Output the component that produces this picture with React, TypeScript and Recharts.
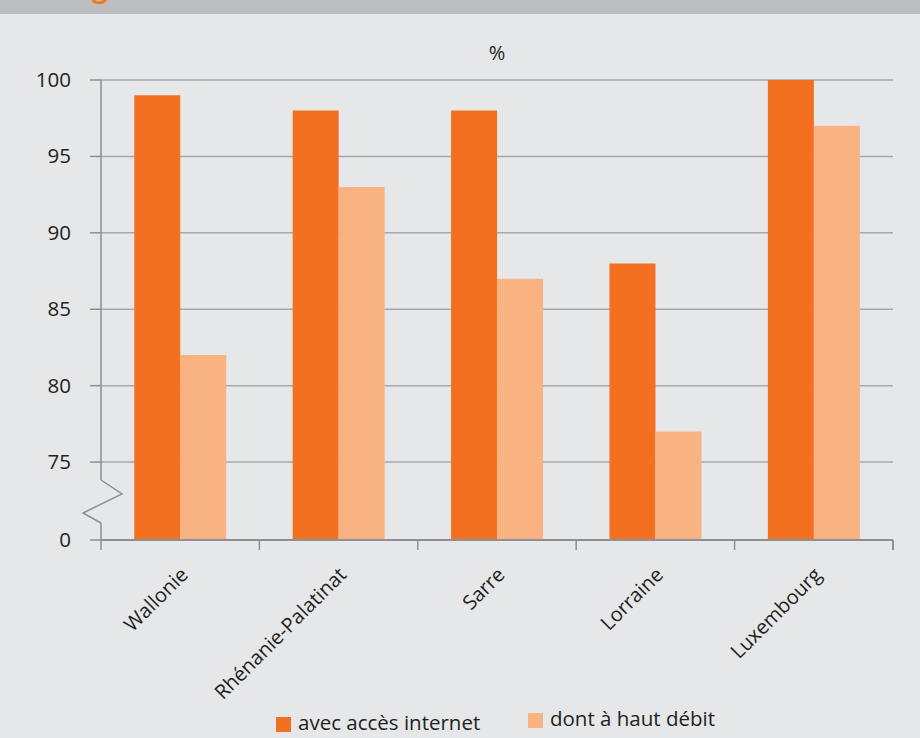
import { BarChart, Bar, XAxis, YAxis, CartesianGrid } from 'recharts';

const REGIONS = ['Wallonie', 'Rhénanie-Palatinat', 'Sarre', 'Lorraine', 'Luxembourg'];
const INTERNET = [99, 98, 98, 88, 100];
const HAUT_DEBIT = [82, 93, 87, 77, 97];
const Y_TICKS = [69.9, 75, 80, 85, 90, 95, 100];
const BREAK_VALUE = 69.9; // bottom of the broken axis, labelled 0

const DARK = '#f37021';
const LIGHT = '#f9b383';
const BG = '#e6e7e8';
const GRID = '#a7a9ac';
const AXIS = '#8d8f92';
const TEXT = '#231f20';
const FONT = '"Open Sans", sans-serif';

const CHART_W = 920;
const CHART_H = 738;
const MARGIN = { top: 80, right: 27, bottom: 0, left: 21 };
const Y_W = 80;
const PLOT_W = CHART_W - MARGIN.left - MARGIN.right - Y_W;

const data = REGIONS.map((r, i) => ({ region: r, internet: INTERNET[i], debit: HAUT_DEBIT[i] }));

function XTick(props: any) {
  const { x, y, payload, index } = props;
  const band = PLOT_W / REGIONS.length;
  return (
    <g>
      <line x1={x - band / 2} x2={x - band / 2} y1={y} y2={y + 10} stroke={AXIS} strokeWidth={1.5} />
      {index === REGIONS.length - 1 && (
        <line x1={x + band / 2} x2={x + band / 2} y1={y} y2={y + 10} stroke={AXIS} strokeWidth={2} />
      )}
      <text
        x={x + 9}
        y={y + 36}
        transform={`rotate(-45, ${x + 9}, ${y + 36})`}
        textAnchor="end"
        fill={TEXT}
        fontSize={20}
        fontFamily={FONT}
      >
        {payload.value}
      </text>
    </g>
  );
}

function YTick(props: any) {
  const { x, y, payload } = props;
  const ax = x + 11 + 17;
  const isBreak = payload.value === BREAK_VALUE;
  return (
    <g>
      {isBreak && (
        <g>
          <rect x={ax - 2} y={y - 60} width={4} height={43} fill={BG} />
          <polyline
            points={`${ax},${y - 60} ${ax + 21},${y - 46} ${ax - 18},${y - 27} ${ax},${y - 17}`}
            fill="none"
            stroke={AXIS}
            strokeWidth={1.5}
          />
        </g>
      )}
      <text x={x - 2} y={y} dy={7} textAnchor="end" fill={TEXT} fontSize={20.5} fontFamily={FONT}>
        {isBreak ? '0' : payload.value}
      </text>
    </g>
  );
}

export default function App() {
  return (
    <div style={{ position: 'absolute', left: 0, top: 0, width: 920, height: 738, background: BG, overflow: 'hidden', fontFamily: FONT }}>
      <div style={{ position: 'absolute', left: 0, top: 0, width: 920, height: 14, background: '#bcbec0', overflow: 'hidden' }}>
        <span style={{ position: 'absolute', left: 92, top: -34, fontSize: 28, fontWeight: 700, color: '#f47b20', lineHeight: '40px' }}>g</span>
      </div>
      <div style={{ position: 'absolute', left: 101, width: PLOT_W, top: 39, textAlign: 'center', fontSize: 20, color: TEXT }}>%</div>
      <div style={{ position: 'absolute', top: 0, left: 0 }}>
        <BarChart width={CHART_W} height={CHART_H} data={data} margin={MARGIN} barCategoryGap="21%" barGap={0}>
          <CartesianGrid vertical={false} stroke={GRID} strokeWidth={1.5} />
          <XAxis
            dataKey="region"
            interval={0}
            height={CHART_H - MARGIN.top - 460}
            tickLine={false}
            tickSize={0}
            tickMargin={0}
            axisLine={{ stroke: AXIS, strokeWidth: 2 }}
            tick={<XTick />}
          />
          <YAxis
            domain={[BREAK_VALUE, 100]}
            ticks={Y_TICKS}
            interval={0}
            width={Y_W}
            tickSize={11}
            tickMargin={17}
            tickLine={{ stroke: AXIS, strokeWidth: 1.5 }}
            axisLine={{ stroke: AXIS, strokeWidth: 1.5 }}
            tick={<YTick />}
            allowDataOverflow
          />
          <YAxis yAxisId="border" orientation="right" width={0} tick={false} tickLine={false} axisLine={{ stroke: AXIS, strokeWidth: 2.5 }} />
          <Bar dataKey="internet" fill={DARK} isAnimationActive={false} />
          <Bar dataKey="debit" fill={LIGHT} isAnimationActive={false} />
        </BarChart>
      </div>
      <div style={{ position: 'absolute', left: 276, top: 717, width: 15, height: 15, background: DARK }} />
      <div style={{ position: 'absolute', left: 298, top: 708, fontSize: 20.5, color: TEXT, whiteSpace: 'nowrap', lineHeight: '28px' }}>avec accès internet</div>
      <div style={{ position: 'absolute', left: 528, top: 713, width: 15, height: 15, background: LIGHT }} />
      <div style={{ position: 'absolute', left: 550, top: 704, fontSize: 20.5, color: TEXT, whiteSpace: 'nowrap', lineHeight: '28px' }}>dont à haut débit</div>
    </div>
  );
}
